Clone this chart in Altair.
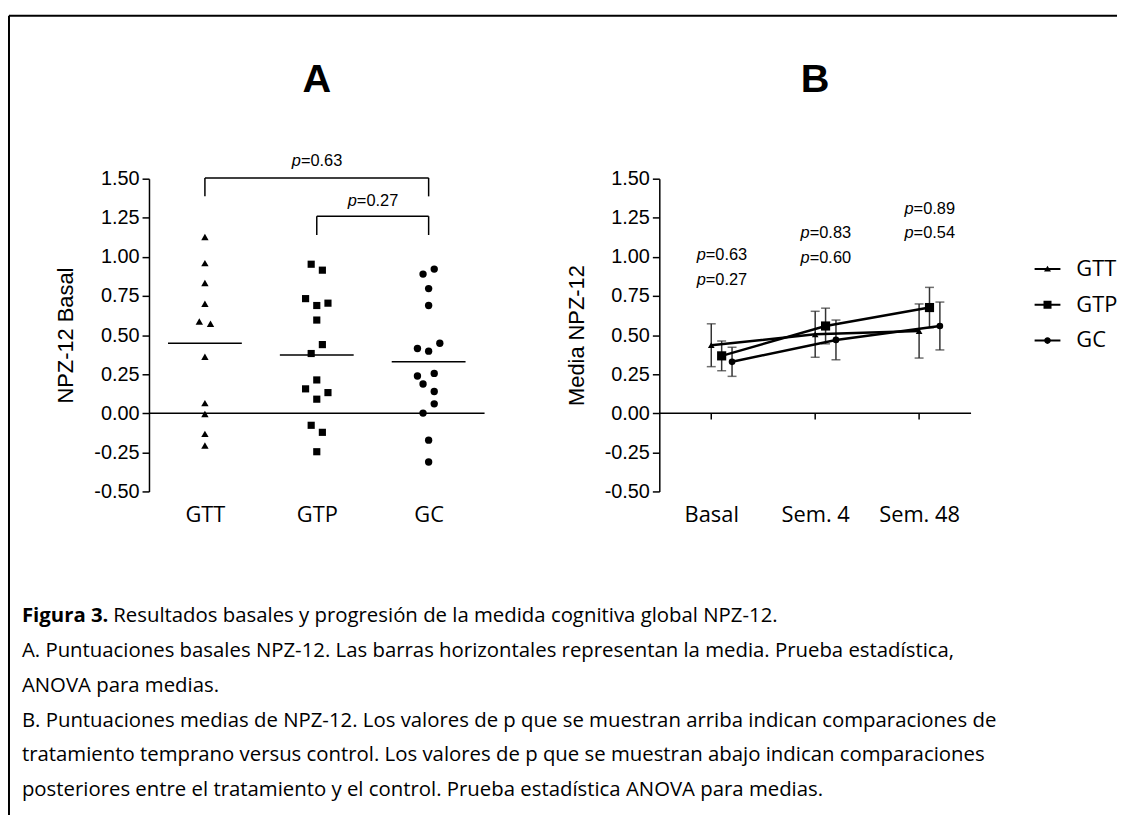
import altair as alt
import pandas as pd

# ---------------- data ----------------
GROUPS = ["GTT", "GTP", "GC"]

GTT_BASAL = [1.127, 0.960, 0.833, 0.700, 0.587, 0.572, 0.361, 0.065, -0.005, -0.132, -0.206]
GTT_SLOT = [0, 0, 0, 0, -1, 1, 0, 0, 0, 0, 0]
GTP_BASAL = [0.953, 0.915, 0.733, 0.689, 0.704, 0.596, 0.439, 0.382, 0.213, 0.156, 0.132, 0.090, -0.077, -0.122, -0.246]
GTP_SLOT = [-1, 1, -2, 0, 2, 0, 1, -1, 0, -2, 2, 0, -1, 1, 0]
GC_BASAL = [0.922, 0.890, 0.797, 0.689, 0.448, 0.414, 0.397, 0.255, 0.238, 0.187, 0.139, 0.060, 0.001, -0.172, -0.312]
GC_SLOT = [1, -1, 0, 0, 2, -2, 0, 1, -2, -1, 1, 1, -1, 0, 0]
MEANS_A = [0.448, 0.372, 0.330]

TIMES = ["Basal", "Sem. 4", "Sem. 48"]
GTT_MEAN = [0.435, 0.505, 0.526]
GTT_SE = [0.137, 0.147, 0.173]
GTP_MEAN = [0.367, 0.558, 0.676]
GTP_SE = [0.095, 0.114, 0.129]
GC_MEAN = [0.329, 0.469, 0.558]
GC_SE = [0.093, 0.127, 0.153]

# significance annotations, panel A
P_A_TEXT = ["=0.63", "=0.27"]
P_A_Y = [1.61, 1.355]
BR_FROM = ["GTT", "GTP"]
BR_TO = ["GC", "GC"]
BR_TOP = [1.505, 1.26]
BR_LEG = [1.387, 1.14]

# p values, panel B (upper / lower rows)
P_B_TOP = ["=0.63", "=0.83", "=0.89"]
P_B_BOT = ["=0.27", "=0.60", "=0.54"]
P_B_TOP_Y = [1.013, 1.152, 1.305]
P_B_BOT_Y = [0.854, 0.994, 1.152]

Y_TICKS = [-0.5, -0.25, 0.0, 0.25, 0.5, 0.75, 1.0, 1.25, 1.5]

CAPTION_BOLD = "Figura 3."
CAPTION_FIRST = "Resultados basales y progresión de la medida cognitiva global NPZ-12."
CAPTION_LINES = [
    "A. Puntuaciones basales NPZ-12. Las barras horizontales representan la media. Prueba estadística,",
    "ANOVA para medias.",
    "B. Puntuaciones medias de NPZ-12. Los valores de p que se muestran arriba indican comparaciones de",
    "tratamiento temprano versus control. Los valores de p que se muestran abajo indican comparaciones",
    "posteriores entre el tratamiento y el control. Prueba estadística ANOVA para medias.",
]

# ---------------- style ----------------
ARIAL = "Liberation Sans"
CAL = "Open Sans"
CAP_SIZE = 20.5
JIT = 0.05                      # horizontal step of a jitter slot (category units)
SERIES_OFF = {"GTT": 0.0, "GTP": 0.1, "GC": 0.2}
MEAN_HALF = 0.33
SHAPES = {"GTT": "triangle-up", "GTP": "square", "GC": "circle"}
SIZE_A = {"GTT": 55, "GTP": 52, "GC": 55}
SIZE_B = {"GTT": 45, "GTP": 85, "GC": 45}
LEG_LINE = "M-1,-0.08H1V0.08H-1Z"
LEGEND_PATHS = [
    LEG_LINE + "M0,-0.26L0.27,0.2L-0.27,0.2Z",
    LEG_LINE + "M-0.31,-0.31H0.31V0.31H-0.31Z",
    LEG_LINE + "M-0.26,0A0.26,0.26,0,1,1,0.26,0A0.26,0.26,0,1,1,-0.26,0Z",
]

pos = {g: i + 0.5 for i, g in enumerate(GROUPS)}
tpos = {t: i + 0.5 for i, t in enumerate(TIMES)}

# ---------------- frames ----------------
rowsA = []
for g, vals, slots in [("GTT", GTT_BASAL, GTT_SLOT), ("GTP", GTP_BASAL, GTP_SLOT), ("GC", GC_BASAL, GC_SLOT)]:
    for v, s in zip(vals, slots):
        rowsA.append({"grupo": g, "x": pos[g] + s * JIT, "y": v})
dfA = pd.DataFrame(rowsA)
dfMeanA = pd.DataFrame({"x": [pos[g] - MEAN_HALF for g in GROUPS],
                        "x2": [pos[g] + MEAN_HALF for g in GROUPS], "y": MEANS_A})
dfZero = pd.DataFrame({"x": [0.0], "x2": [3.0], "y": [0.0]})
dfBr = pd.DataFrame({"x": [pos[g] for g in BR_FROM], "x2": [pos[g] for g in BR_TO],
                     "y": BR_TOP, "leg": BR_LEG})
dfLegs = pd.DataFrame({"x": [pos[g] for g in BR_FROM] + [pos[g] for g in BR_TO],
                       "y": BR_TOP + BR_TOP, "y2": BR_LEG + BR_LEG})
dfPA = pd.DataFrame({"x": [(pos[a] + pos[b]) / 2 for a, b in zip(BR_FROM, BR_TO)],
                     "y": P_A_Y, "t": P_A_TEXT})

rowsB = []
for g, m, se in [("GTT", GTT_MEAN, GTT_SE), ("GTP", GTP_MEAN, GTP_SE), ("GC", GC_MEAN, GC_SE)]:
    for t, mv, sv in zip(TIMES, m, se):
        rowsB.append({"grupo": g, "x": tpos[t] + SERIES_OFF[g], "y": mv, "lo": mv - sv, "hi": mv + sv})
dfB = pd.DataFrame(rowsB)
dfTicksB = pd.DataFrame({"x": [tpos[t] for t in TIMES], "y": [0.0] * 3, "y2": [-0.04] * 3})
dfPB = pd.DataFrame({"x": [tpos[t] + SERIES_OFF["GTP"] for t in TIMES] * 2,
                     "y": P_B_TOP_Y + P_B_BOT_Y, "t": P_B_TOP + P_B_BOT})

# ---------------- helpers ----------------
def yenc(field, title=None):
    return alt.Y(field, type="quantitative",
                 scale=alt.Scale(domain=[-0.5, 1.5], nice=False, zero=False),
                 axis=alt.Axis(title=title, values=Y_TICKS,
                               labelExpr="replace(format(datum.value, '.2f'), '\u2212', '-')",
                               domainColor="black", domainWidth=1.5, tickColor="black",
                               tickWidth=1.5, tickSize=7, labelFont=ARIAL, labelFontSize=20,
                               labelColor="black", labelPadding=3, titleFont=ARIAL,
                               titleFontSize=22, titleFontWeight="normal", titleColor="black",
                               titlePadding=16, grid=False))


def xenc(field, cats):
    expr = f"datum.value < 1 ? '{cats[0]}' : datum.value < 2 ? '{cats[1]}' : '{cats[2]}'"
    return alt.X(field, type="quantitative",
                 scale=alt.Scale(domain=[0, 3], nice=False, zero=False),
                 axis=alt.Axis(title=None, values=[0.5, 1.5, 2.5], labelExpr=expr,
                               domain=False, ticks=False, grid=False, labelFont=CAL,
                               labelFontSize=22, labelColor="black", labelPadding=13,
                               labelFlush=False))


def ptext(df, cats, title):
    p = alt.Chart(df).mark_text(font=ARIAL, fontSize=16.5, fontStyle="italic", align="right",
                                baseline="middle", dx=-16, color="black").encode(
        x=xenc("x", cats), y=yenc("y", title), text=alt.value("p"))
    v = alt.Chart(df).mark_text(font=ARIAL, fontSize=16.5, align="left", baseline="middle",
                                dx=-16, color="black").encode(
        x=xenc("x", cats), y=yenc("y", title), text="t:N")
    return [p, v]


# ---------------- panel A ----------------
tA = "NPZ-12 Basal"
layersA = [
    alt.Chart(dfZero).mark_rule(color="black", strokeWidth=1.5).encode(
        x=xenc("x", GROUPS), x2="x2", y=yenc("y", tA)),
    alt.Chart(dfMeanA).mark_rule(color="black", strokeWidth=1.5).encode(
        x=xenc("x", GROUPS), x2="x2", y=yenc("y", tA)),
    alt.Chart(dfBr).mark_rule(color="black", strokeWidth=1.5).encode(
        x=xenc("x", GROUPS), x2="x2", y=yenc("y", tA)),
    alt.Chart(dfLegs).mark_rule(color="black", strokeWidth=1.5).encode(
        x=xenc("x", GROUPS), y=yenc("y", tA), y2="y2"),
]
for g in GROUPS:
    layersA.append(
        alt.Chart(dfA[dfA.grupo == g]).mark_point(shape=SHAPES[g], filled=True, color="black",
                                                  opacity=1, size=SIZE_A[g]).encode(
            x=xenc("x", GROUPS), y=yenc("y", tA)))
layersA += ptext(dfPA, GROUPS, tA)
layersA.append(
    alt.Chart(pd.DataFrame({"t": ["A"]})).mark_text(font=ARIAL, fontSize=40, fontWeight="bold",
                                                    baseline="middle", color="black").encode(
        text="t:N", x=alt.value(169), y=alt.value(-99)))
plotA = alt.layer(*layersA)

# ---------------- caption (drawn in panel A's cell, own vertical scale) ----------------
capY = alt.Y("line:Q", scale=alt.Scale(domain=[0, 5], range=[447, 622]), axis=None)
dfCapFirst = pd.DataFrame({"line": [0], "bold": [CAPTION_BOLD], "text": [CAPTION_FIRST]})
dfCap = pd.DataFrame({"line": list(range(1, len(CAPTION_LINES) + 1)), "text": CAPTION_LINES})
caption = alt.layer(
    alt.Chart(dfCapFirst).mark_text(font=CAL, fontSize=CAP_SIZE, fontWeight="bold", align="left",
                                    baseline="alphabetic", color="black").encode(
        y=capY, x=alt.value(-128), text="bold:N"),
    alt.Chart(dfCapFirst).mark_text(font=CAL, fontSize=CAP_SIZE, align="left",
                                    baseline="alphabetic", color="black").encode(
        y=capY, x=alt.value(-36), text="text:N"),
    alt.Chart(dfCap).mark_text(font=CAL, fontSize=CAP_SIZE, align="left",
                               baseline="alphabetic", color="black").encode(
        y=capY, x=alt.value(-128), text="text:N"),
    # figure frame (top and left edges)
    alt.Chart(pd.DataFrame({"k": [0]})).mark_rule(color="black", strokeWidth=2).encode(
        x=alt.value(-141), y=alt.value(-164), y2=alt.value(641)),
    alt.Chart(pd.DataFrame({"k": [0]})).mark_rule(color="black", strokeWidth=2).encode(
        x=alt.value(-141), x2=alt.value(975), y=alt.value(-164)),
)
panelA = alt.layer(plotA, caption).resolve_scale(y="independent").properties(width=338, height=315)

# ---------------- panel B ----------------
tB = "Media NPZ-12"
layersB = [
    alt.Chart(dfZero).mark_rule(color="black", strokeWidth=1.5).encode(
        x=xenc("x", TIMES), x2="x2", y=yenc("y", tB)),
    alt.Chart(dfTicksB).mark_rule(color="black", strokeWidth=1.5).encode(
        x=xenc("x", TIMES), y=yenc("y", tB), y2="y2"),
    alt.Chart(dfB).mark_rule(color="#333333", strokeWidth=1.5).encode(
        x=xenc("x", TIMES), y=yenc("lo", tB), y2="hi"),
    alt.Chart(dfB).mark_tick(orient="horizontal", size=9, thickness=1.5, color="#333333").encode(
        x=xenc("x", TIMES), y=yenc("lo", tB)),
    alt.Chart(dfB).mark_tick(orient="horizontal", size=9, thickness=1.5, color="#333333").encode(
        x=xenc("x", TIMES), y=yenc("hi", tB)),
    alt.Chart(dfB).mark_line(color="black", strokeWidth=2.5).encode(
        x=xenc("x", TIMES), y=yenc("y", tB), detail="grupo:N", order="x:Q"),
]
for g in GROUPS:
    layersB.append(
        alt.Chart(dfB[dfB.grupo == g]).mark_point(shape=SHAPES[g], filled=True, color="black",
                                                  opacity=1, size=SIZE_B[g]).encode(
            x=xenc("x", TIMES), y=yenc("y", tB)))
layersB.append(
    alt.Chart(dfB).mark_point(filled=True, color="black", opacity=0).encode(
        x=xenc("x", TIMES), y=yenc("y", tB),
        shape=alt.Shape("grupo:N", scale=alt.Scale(domain=GROUPS, range=LEGEND_PATHS),
                        legend=alt.Legend(title=None, orient="none", legendX=378, legendY=78,
                                          symbolSize=676, symbolFillColor="black",
                                          symbolStrokeColor="black", symbolStrokeWidth=0,
                                          symbolOpacity=1, labelFont=CAL, labelFontSize=22,
                                          labelColor="black", labelOffset=16, rowPadding=12,
                                          padding=0))))
layersB += ptext(dfPB, TIMES, tB)
layersB.append(
    alt.Chart(pd.DataFrame({"t": ["B"]})).mark_text(font=ARIAL, fontSize=40, fontWeight="bold",
                                                    baseline="middle", color="black").encode(
        text="t:N", x=alt.value(157), y=alt.value(-99)))
panelB = alt.layer(*layersB).properties(width=314, height=315)

chart = alt.hconcat(panelA, panelB, spacing=176, bounds="flush").resolve_scale(
    x="independent", y="independent", shape="independent"
).properties(
    padding={"left": 0, "top": 4, "right": 0, "bottom": 0}
).configure_view(stroke=None)

chart.save("out.html", embed_options={"renderer": "svg", "actions": False})
